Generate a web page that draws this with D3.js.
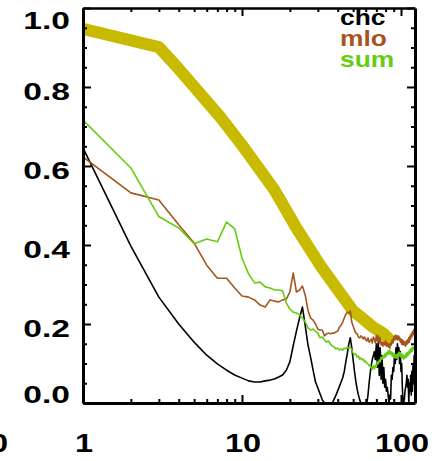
<!DOCTYPE html>
<html>
<head>
<meta charset="utf-8">
<script src="https://cdn.jsdelivr.net/npm/d3@7"></script>
<style>
  html, body { margin: 0; padding: 0; background: #fff; }
  svg { display: block; }
  text { font-family: "Liberation Sans", Arial, Helvetica, sans-serif; font-weight: bold; }
</style>
</head>
<body>
<svg id="chart" width="440" height="461"></svg>
<script>
// Frequency index (integer harmonics) shared by the three spectra
const freq = d3.range(1, 123);

// chc spectrum
const chc = [
  0.646, 0.397, 0.268, 0.200, 0.154, 0.121, 0.099, 0.083, 0.071, 0.063,
  0.056, 0.053, 0.053, 0.056, 0.058, 0.061, 0.066, 0.071, 0.083, 0.104,
  0.145, 0.182, 0.215, 0.243, 0.195, 0.147, 0.116, 0.083, 0.053, 0.038,
  0.023, 0.008, 0.000, 0.000, 0.000, 0.000, 0.000, 0.010, 0.020, 0.031,
  0.042, 0.053, 0.064, 0.080, 0.105, 0.126, 0.150, 0.165, 0.140, 0.110,
  0.080, 0.055, 0.035, 0.020, 0.008, 0.000, 0.000, 0.000, 0.000, 0.000,
  0.000, 0.020, 0.050, 0.075, 0.095, 0.110, 0.120, 0.130, 0.110, 0.150,
  0.090, 0.155, 0.070, 0.140, 0.060, 0.120, 0.050, 0.090, 0.040, 0.060,
  0.030, 0.040, 0.020, 0.000, 0.020, 0.010, 0.070, 0.060, 0.090, 0.080,
  0.120, 0.100, 0.140, 0.110, 0.150, 0.120, 0.140, 0.100, 0.130, 0.080,
  0.100, 0.040, 0.000, 0.000, 0.010, 0.030, 0.040, 0.050, 0.070, 0.040,
  0.060, 0.000, 0.050, 0.030, 0.070, 0.020, 0.080, 0.030, 0.100, 0.050,
  0.120, 0.060
];

// mlo spectrum
const mlo = [
  0.623, 0.532, 0.514, 0.451, 0.405, 0.349, 0.316, 0.316, 0.291, 0.271,
  0.268, 0.261, 0.248, 0.243, 0.261, 0.258, 0.256, 0.261, 0.263, 0.281,
  0.329, 0.281, 0.286, 0.296, 0.273, 0.235, 0.215, 0.210, 0.200, 0.187,
  0.185, 0.185, 0.170, 0.175, 0.177, 0.175, 0.177, 0.177, 0.180, 0.182,
  0.192, 0.197, 0.205, 0.215, 0.225, 0.230, 0.228, 0.233, 0.205, 0.195,
  0.185, 0.177, 0.175, 0.167, 0.165, 0.170, 0.167, 0.162, 0.167, 0.160,
  0.157, 0.165, 0.154, 0.157, 0.162, 0.152, 0.167, 0.162, 0.152, 0.172,
  0.157, 0.170, 0.152, 0.165, 0.147, 0.154, 0.144, 0.154, 0.147, 0.157,
  0.144, 0.152, 0.142, 0.149, 0.139, 0.152, 0.147, 0.160, 0.152, 0.167,
  0.160, 0.172, 0.162, 0.170, 0.160, 0.170, 0.160, 0.167, 0.154, 0.162,
  0.149, 0.160, 0.147, 0.157, 0.147, 0.154, 0.144, 0.157, 0.149, 0.160,
  0.152, 0.165, 0.154, 0.170, 0.162, 0.175, 0.167, 0.180, 0.172, 0.185,
  0.175, 0.190
];

// sum spectrum
const sum = [
  0.716, 0.595, 0.472, 0.443, 0.403, 0.415, 0.408, 0.458, 0.441, 0.367,
  0.327, 0.304, 0.306, 0.294, 0.291, 0.286, 0.286, 0.284, 0.253, 0.238,
  0.230, 0.228, 0.223, 0.215, 0.205, 0.190, 0.185, 0.187, 0.182, 0.177,
  0.165, 0.167, 0.160, 0.154, 0.157, 0.149, 0.144, 0.142, 0.137, 0.139,
  0.134, 0.137, 0.134, 0.139, 0.137, 0.142, 0.139, 0.142, 0.134, 0.127,
  0.122, 0.124, 0.116, 0.119, 0.111, 0.114, 0.109, 0.111, 0.104, 0.106,
  0.101, 0.099, 0.094, 0.096, 0.089, 0.086, 0.094, 0.086, 0.096, 0.091,
  0.104, 0.099, 0.109, 0.104, 0.116, 0.111, 0.119, 0.114, 0.124, 0.116,
  0.127, 0.122, 0.132, 0.124, 0.134, 0.124, 0.129, 0.119, 0.127, 0.116,
  0.124, 0.114, 0.122, 0.114, 0.124, 0.116, 0.129, 0.119, 0.127, 0.116,
  0.124, 0.114, 0.122, 0.111, 0.119, 0.114, 0.124, 0.116, 0.127, 0.119,
  0.129, 0.122, 0.134, 0.127, 0.137, 0.129, 0.139, 0.132, 0.142, 0.137,
  0.140, 0.140
];

// Thick reference curve
const refFreq = [1, 3, 3.9, 7.3, 10, 16, 22, 31, 50, 57, 66.7, 77, 89];
const refVal  = [0.947, 0.901, 0.851, 0.724, 0.653, 0.539, 0.443, 0.349, 0.233, 0.215, 0.192, 0.177, 0.152];

// Axes
const xMajor = [1, 10, 100];
const xMinor = [2, 3, 4, 5, 6, 7, 8, 9, 20, 30, 40, 50, 60, 70, 80, 90];
const yMajor = [0, 0.2, 0.4, 0.6, 0.8, 1.0];
const yMinor = [0.05, 0.1, 0.15, 0.25, 0.3, 0.35, 0.45, 0.5, 0.55, 0.65, 0.7, 0.75, 0.85, 0.9, 0.95];

const legendNames = ["chc", "mlo", "sum"];
const legendColors = ["#000000", "#a5551e", "#66cc11"];
const refColor = "#c8ba00";

const svg = d3.select("#chart");
svg.append("rect").attr("width", 440).attr("height", 461).attr("fill", "#fff");

const x = d3.scaleLog().domain([1, 122.5]).range([83, 415]);
const y = d3.scaleLinear().domain([0, 1]).range([403, 8]);

svg.append("defs").append("clipPath").attr("id", "plot")
  .append("rect").attr("x", 83).attr("y", 8).attr("width", 332).attr("height", 395);

const plot = svg.append("g").attr("clip-path", "url(#plot)");

// reference band
plot.append("path")
  .datum(refFreq.map((f, i) => [f, refVal[i]]))
  .attr("fill", "none")
  .attr("stroke", refColor)
  .attr("stroke-width", 12)
  .attr("stroke-linejoin", "round")
  .attr("d", d3.line().x(d => x(d[0])).y(d => y(d[1])));

// spectra
const series = [chc, mlo, sum];
const line = d3.line().x(d => x(d[0])).y(d => y(d[1]));
series.forEach((vals, k) => {
  plot.append("path")
    .datum(freq.map((f, i) => [f, vals[i]]))
    .attr("fill", "none")
    .attr("stroke", legendColors[k])
    .attr("stroke-width", 1.6)
    .attr("stroke-linejoin", "round")
    .attr("d", line);
});

// frame and ticks
function styleAxis(g, w) {
  g.select(".domain").attr("stroke", "#000").attr("stroke-width", w);
  g.selectAll(".tick line").attr("stroke", "#000").attr("stroke-width", 2);
  g.selectAll(".tick text").remove();
}
function addAxis(axisFn, scale, major, minor, tr, w) {
  svg.append("g").attr("transform", tr)
    .call(axisFn(scale).tickValues(major).tickSizeInner(-8).tickSizeOuter(0).tickFormat(""))
    .call(g => styleAxis(g, w));
  svg.append("g").attr("transform", tr)
    .call(axisFn(scale).tickValues(minor).tickSizeInner(-4).tickSizeOuter(0).tickFormat(""))
    .call(g => { g.select(".domain").remove(); styleAxis(g, w); });
}
addAxis(d3.axisTop, x, xMajor, xMinor, "translate(0,8)", 2.5);
addAxis(d3.axisRight, y, yMajor, yMinor, "translate(415,0)", 3);
addAxis(d3.axisBottom, x, xMajor, xMinor, "translate(0,403)", 3);
addAxis(d3.axisLeft, y, yMajor, yMinor, "translate(83,0)", 3);

// y labels
yMajor.forEach(v => {
  const base = Math.min(403, Math.max(29, y(v) + 13));
  svg.append("g").attr("transform", `translate(70,${base}) scale(1.4,1)`)
    .append("text").attr("text-anchor", "end").attr("font-size", 24)
    .attr("fill", "#000").text(v.toFixed(1));
});

// x labels
xMajor.forEach(v => {
  svg.append("g").attr("transform", `translate(${x(v) + 1},452) scale(1.3,1)`)
    .append("text").attr("text-anchor", "middle").attr("font-size", 25)
    .attr("fill", "#000").text(d3.format("d")(v));
});
// label of the neighbouring axis, cut at the left edge
svg.append("g").attr("transform", "translate(8,452) scale(1.3,1)")
  .append("text").attr("text-anchor", "end").attr("font-size", 25)
  .attr("fill", "#000").text("100");

// legend
legendNames.forEach((name, i) => {
  svg.append("g").attr("transform", `translate(340,${25 + i * 21}) scale(1.2,1)`)
    .append("text").attr("font-size", 22).attr("fill", legendColors[i]).text(name);
});
</script>
</body>
</html>
